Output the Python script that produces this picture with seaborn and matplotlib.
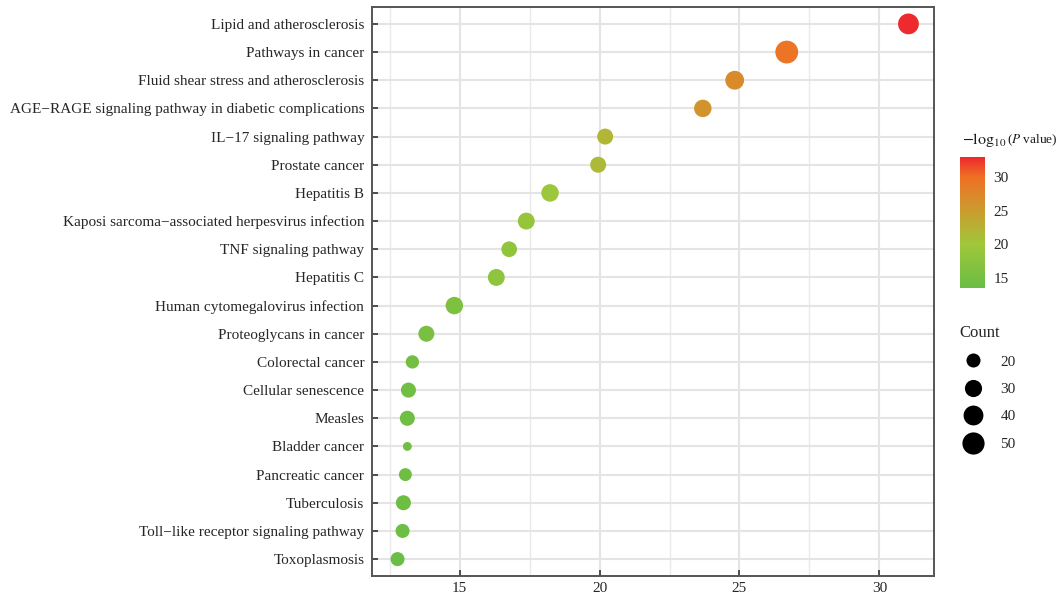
import matplotlib
matplotlib.use("Agg")
import matplotlib.pyplot as plt
import seaborn as sns
import numpy as np
import pandas as pd
from matplotlib.colors import LinearSegmentedColormap, Normalize
from matplotlib.lines import Line2D
import matplotlib.cm as cm

pathways = [
    "Lipid and atherosclerosis",
    "Pathways in cancer",
    "Fluid shear stress and atherosclerosis",
    "AGE\u2212RAGE signaling pathway in diabetic complications",
    "IL\u221217 signaling pathway",
    "Prostate cancer",
    "Hepatitis B",
    "Kaposi sarcoma\u2212associated herpesvirus infection",
    "TNF signaling pathway",
    "Hepatitis C",
    "Human cytomegalovirus infection",
    "Proteoglycans in cancer",
    "Colorectal cancer",
    "Cellular senescence",
    "Measles",
    "Bladder cancer",
    "Pancreatic cancer",
    "Tuberculosis",
    "Toll\u2212like receptor signaling pathway",
    "Toxoplasmosis",
]
x_values = [31.04, 26.69, 24.83, 23.69, 20.20, 19.95, 18.23, 17.38, 16.77, 16.31,
            14.81, 13.81, 13.31, 13.17, 13.13, 13.13, 13.06, 12.99, 12.96, 12.78]
neglog10_p = [33.0, 29.5, 27.0, 26.0, 22.0, 21.5, 19.5, 18.8, 18.2, 17.8,
              16.0, 15.3, 14.5, 14.3, 14.3, 14.2, 14.1, 14.0, 13.9, 13.5]
counts = [44, 53, 36, 31, 26, 26, 31, 29, 25, 29,
          31, 26, 18, 23, 23, 8, 17, 23, 20, 20]
legend_counts = [20, 30, 40, 50]
x_ticks = [15, 20, 25, 30]
cbar_ticks = [15, 20, 25, 30]

df = pd.DataFrame({"Pathway": pathways, "X": x_values,
                   "P": neglog10_p, "Count": counts})

sns.set_theme(style="white")
plt.rcParams["font.family"] = ["Liberation Serif", "DejaVu Serif"]
plt.rcParams["mathtext.fontset"] = "stix"

cmap = LinearSegmentedColormap.from_list(
    "gr",
    [(0.0, "#6ABD45"), (0.333, "#A0C73A"), (0.59, "#CB9C2F"),
     (0.846, "#EE7024"), (1.0, "#EE2A2E")])
vmin, vmax = 13.5, 33.0
norm = Normalize(vmin, vmax)

W, H = 1060, 597
fig = plt.figure(figsize=(W / 100, H / 100), dpi=100)
ax = fig.add_axes([372 / W, 1 - 576 / H, (934 - 372) / W, (576 - 7) / H])

S_PER_COUNT = 5.1
cmin, cmax = min(counts), max(counts)
sns.scatterplot(data=df, x="X", y="Pathway", hue="P", palette=cmap,
                hue_norm=norm, size="Count",
                sizes=(S_PER_COUNT * cmin, S_PER_COUNT * cmax),
                size_norm=(cmin, cmax), linewidth=0, legend=False,
                ax=ax, zorder=3)

n = len(pathways)
ax.set_ylim(n - 1 + 0.6, -0.6)
rng = max(x_values) - min(x_values)
ax.set_xlim(min(x_values) - 0.05 * rng, max(x_values) + 0.05 * rng)
ax.set_xticks(x_ticks)
ax.set_xticks([12.5, 17.5, 22.5, 27.5], minor=True)
ax.set_xlabel("")
ax.set_ylabel("")
ax.grid(True, which="major", color="#E4E4E4", lw=1.5, zorder=0)
ax.grid(True, which="minor", axis="x", color="#EAEAEA", lw=1.0, zorder=0)
ax.set_axisbelow(True)
for sp in ax.spines.values():
    sp.set_visible(True)
    sp.set_color("#555555")
    sp.set_linewidth(1.4)
ax.tick_params(axis="both", which="major", direction="in", length=4,
               width=1.2, color="#333333", labelsize=11, labelcolor="#262626")
ax.tick_params(axis="y", pad=5.5, left=True)
ax.tick_params(axis="x", pad=4, bottom=True)
ax.tick_params(axis="x", which="minor", length=0)

# colorbar
cax = fig.add_axes([960 / W, 1 - 288 / H, 25 / W, 131 / H])
sm = cm.ScalarMappable(norm=norm, cmap=cmap)
cb = fig.colorbar(sm, cax=cax, ticks=cbar_ticks)
cb.outline.set_visible(False)
cax.tick_params(axis="y", direction="in", length=4, width=0.8, color="white",
                left=True, right=True, labelsize=11, labelcolor="#262626", pad=6)

renderer = fig.canvas.get_renderer()
t1 = fig.text(962 / W, 1 - 144 / H, r"$-\log_{10}$", fontsize=11.5,
              ha="left", va="baseline", color="#1a1a1a")
bb = t1.get_window_extent(renderer)
fig.text((bb.x1 + 0.5) / W, 1 - 143 / H, r"($\mathit{P}$ value)", fontsize=9.5,
         ha="left", va="baseline", color="#1a1a1a")

# size legend
handles = [Line2D([], [], marker="o", linestyle="none", color="black",
                  markeredgewidth=0,
                  markersize=np.sqrt(S_PER_COUNT * c)) for c in legend_counts]
leg = fig.legend(handles, [str(c) for c in legend_counts], title="Count",
                 loc="upper left", bbox_to_anchor=(953 / W, 1 - 319 / H),
                 frameon=False, fontsize=11, title_fontsize=12,
                 labelspacing=0.9, handletextpad=0.85, borderaxespad=0,
                 handlelength=1.85)
leg._legend_box.align = "left"
for t in leg.get_texts():
    t.set_color("#262626")

fig.savefig("out.png", dpi=100)
